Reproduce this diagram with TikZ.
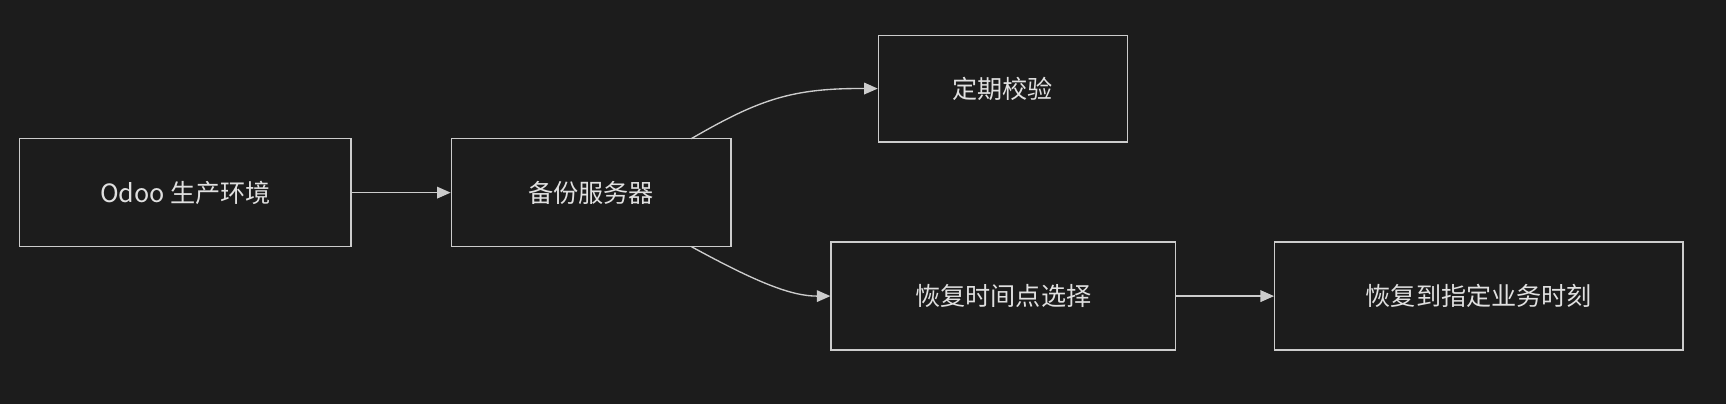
\documentclass[tikz,border=0pt]{standalone}
\usepackage{fontspec}
\setmainfont{Noto Sans CJK SC}
\usetikzlibrary{arrows.meta}
\definecolor{bg}{HTML}{1C1C1C}
\definecolor{ln}{HTML}{CCCCCC}
\definecolor{tx}{HTML}{E0E0E0}
\begin{document}
\begin{tikzpicture}[x=0.02cm,y=-0.02cm,
  box/.style={draw=ln,line width=0.7pt,text=tx,font=\fontsize{13}{15}\selectfont,inner sep=0pt},
  arr/.style={draw=ln,line width=0.7pt,-{Triangle[length=7pt,width=6pt]}}]
\fill[bg] (0,0) rectangle (1568,367);
\useasboundingbox (0,0) rectangle (1568,367);
\node[box,minimum width=301*0.02cm,minimum height=98*0.02cm] (a) at (168.5,175) {Odoo 生产环境};
\node[box,minimum width=254*0.02cm,minimum height=98*0.02cm] (b) at (537,175) {备份服务器};
\node[box,minimum width=226*0.02cm,minimum height=97*0.02cm] (c) at (911,80.5) {定期校验};
\node[box,minimum width=313*0.02cm,minimum height=98*0.02cm] (d) at (911.5,269) {恢复时间点选择};
\node[box,minimum width=371*0.02cm,minimum height=98*0.02cm] (e) at (1343.5,269) {恢复到指定业务时刻};
\coordinate (bt) at (628,126);
\coordinate (bb) at (628,224);
\draw[arr] (a) -- (b);
\draw[arr] (bt) .. controls (690,90) and (720,80) .. (c.west);
\draw[arr] (bb) .. controls (690,258) and (720,269) .. (d.west);
\draw[arr] (d) -- (e);
\end{tikzpicture}
\end{document}
